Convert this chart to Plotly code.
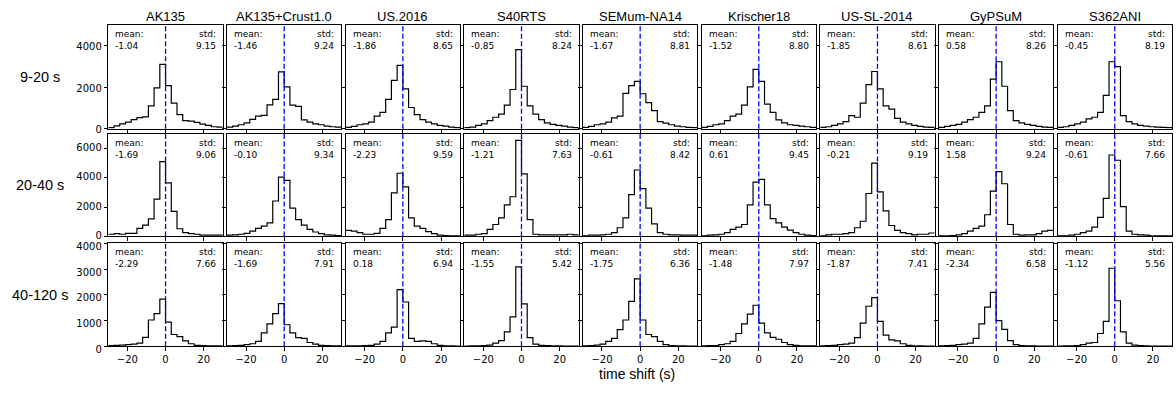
import plotly.graph_objects as go

# ---------------- data ----------------
MODELS = ["AK135", "AK135+Crust1.0", "US.2016", "S40RTS", "SEMum-NA14",
          "Krischer18", "US-SL-2014", "GyPSuM", "S362ANI"]
PERIODS = ["9-20 s", "20-40 s", "40-120 s"]
BIN_EDGES = [-30, -27, -24, -21, -18, -15, -12, -9, -6, -3, 0,
             3, 6, 9, 12, 15, 18, 21, 24, 27, 30]
X_TICKS = [-20, 0, 20]

# 9-20 s
ak135_r1 = [50, 140, 235, 315, 440, 535, 565, 1100, 1960, 3090, 2070, 1225, 675, 390, 360, 300, 220, 160, 95, 80]
crust_r1 = [80, 125, 190, 280, 450, 600, 640, 1150, 1410, 2730, 2010, 1130, 1070, 420, 315, 235, 190, 125, 95, 80]
us2016_r1 = [60, 110, 190, 235, 315, 600, 785, 1410, 2320, 3045, 1915, 1020, 675, 440, 315, 235, 157, 125, 80, 50]
s40rts_r1 = [50, 80, 157, 235, 390, 550, 705, 1130, 1885, 3800, 2040, 1100, 705, 440, 280, 205, 157, 125, 80, 50]
semum_r1 = [60, 110, 190, 235, 315, 520, 600, 1695, 2070, 2275, 1680, 1255, 865, 345, 265, 190, 125, 95, 60, 50]
krischer_r1 = [60, 110, 190, 235, 390, 600, 705, 1130, 2010, 2855, 2275, 1180, 785, 420, 280, 190, 157, 125, 95, 60]
ussl_r1 = [60, 95, 157, 235, 345, 630, 550, 1225, 2120, 2750, 1915, 1100, 940, 500, 315, 235, 157, 110, 80, 60]
gypsum_r1 = [60, 110, 157, 205, 315, 440, 550, 785, 1100, 2385, 3220, 2040, 865, 390, 280, 205, 157, 110, 80, 60]
s362_r1 = [60, 95, 157, 235, 315, 470, 550, 785, 1600, 3220, 2980, 630, 345, 235, 157, 125, 95, 80, 60, 50]

# 20-40 s
ak135_r2 = [145, 190, 145, 210, 210, 545, 765, 1190, 2540, 5095, 3650, 1700, 520, 255, 190, 145, 80, 80, 80, 80]
crust_r2 = [80, 100, 145, 210, 365, 545, 700, 920, 2410, 4030, 3810, 1920, 1145, 765, 475, 300, 190, 100, 80, 50]
us2016_r2 = [410, 365, 255, 145, 145, 210, 545, 1145, 2960, 4300, 3365, 1255, 700, 545, 320, 190, 80, 60, 40, 40]
s40rts_r2 = [80, 80, 145, 190, 475, 810, 1255, 2140, 2700, 6540, 4250, 1145, 145, 100, 100, 100, 100, 100, 145, 100]
semum_r2 = [35, 80, 80, 100, 145, 255, 590, 1255, 2850, 4520, 3255, 1920, 855, 255, 145, 100, 100, 80, 80, 80]
krischer_r2 = [35, 80, 100, 145, 255, 475, 630, 810, 2140, 3700, 3875, 2140, 1210, 920, 630, 430, 255, 145, 80, 60]
ussl_r2 = [35, 100, 145, 145, 190, 255, 590, 1030, 2920, 4985, 3030, 1740, 740, 410, 255, 190, 100, 145, 145, 230]
gypsum_r2 = [40, 40, 60, 100, 190, 365, 545, 700, 1475, 3075, 4410, 3585, 810, 145, 80, 100, 100, 190, 365, 410]
s362_r2 = [30, 35, 80, 145, 255, 365, 630, 1300, 2590, 5540, 5185, 2030, 365, 145, 100, 80, 35, 35, 35, 35]

# 40-120 s
ak135_r3 = [30, 40, 50, 65, 90, 125, 350, 1025, 1275, 1840, 940, 460, 375, 210, 100, 40, 30, 20, 20, 20]
crust_r3 = [15, 25, 40, 65, 100, 190, 525, 875, 1275, 1660, 840, 525, 340, 310, 150, 90, 40, 25, 20, 15]
us2016_r3 = [15, 15, 15, 25, 40, 90, 190, 525, 750, 2210, 1725, 310, 190, 210, 190, 100, 40, 20, 15, 10]
s40rts_r3 = [10, 15, 15, 25, 50, 125, 225, 560, 1150, 3090, 1650, 340, 90, 40, 25, 20, 15, 10, 10, 10]
semum_r3 = [15, 25, 50, 90, 190, 310, 650, 1025, 1750, 2625, 1025, 460, 375, 190, 65, 25, 20, 15, 10, 10]
krischer_r3 = [15, 25, 25, 65, 100, 190, 500, 875, 1250, 1600, 900, 525, 350, 275, 150, 65, 40, 15, 15, 15]
ussl_r3 = [15, 25, 40, 65, 90, 125, 340, 900, 1560, 1900, 975, 440, 250, 210, 100, 40, 20, 15, 10, 10]
gypsum_r3 = [15, 25, 40, 65, 90, 125, 310, 875, 1525, 2100, 1000, 660, 225, 65, 25, 20, 15, 10, 10, 10]
s362_r3 = [10, 15, 15, 25, 65, 125, 150, 500, 975, 3040, 1775, 560, 125, 50, 25, 15, 10, 10, 10, 10]

MEAN_R1 = [-1.04, -1.46, -1.86, -0.85, -1.67, -1.52, -1.85, 0.58, -0.45]
STD_R1 = [9.15, 9.24, 8.65, 8.24, 8.81, 8.80, 8.61, 8.26, 8.19]
MEAN_R2 = [-1.69, -0.10, -2.23, -1.21, -0.61, 0.61, -0.21, 1.58, -0.61]
STD_R2 = [9.06, 9.34, 9.59, 7.63, 8.42, 9.45, 9.19, 9.24, 7.66]
MEAN_R3 = [-2.29, -1.69, 0.18, -1.55, -1.75, -1.48, -1.87, -2.34, -1.12]
STD_R3 = [7.66, 7.91, 6.94, 5.42, 6.36, 7.97, 7.41, 6.58, 5.56]

Y_MAX = [5000, 7000, 4010]
Y_DTICK = [2000, 2000, 1000]

COUNTS = [
    [ak135_r1, crust_r1, us2016_r1, s40rts_r1, semum_r1, krischer_r1, ussl_r1, gypsum_r1, s362_r1],
    [ak135_r2, crust_r2, us2016_r2, s40rts_r2, semum_r2, krischer_r2, ussl_r2, gypsum_r2, s362_r2],
    [ak135_r3, crust_r3, us2016_r3, s40rts_r3, semum_r3, krischer_r3, ussl_r3, gypsum_r3, s362_r3],
]
MEANS = [MEAN_R1, MEAN_R2, MEAN_R3]
STDS = [STD_R1, STD_R2, STD_R3]

# ---------------- layout geometry (pixels) ----------------
W, H = 1176, 394
COL_LEFT0, COL_STEP, PANEL_W = 108.3, 118.65, 114.5
ROW_TOP = [23.3, 135.0, 247.6]
ROW_BOT = [130.0, 240.5, 353.3]
LABEL_SHIFT = [1, -1, 3]

TICK_FONT = dict(family="DejaVu Sans", size=10, color="black")
LABEL_FAMILY = "Liberation Sans, Arial, sans-serif"

fig = go.Figure()
layout = dict(
    width=W, height=H, margin=dict(l=0, r=0, t=0, b=0),
    paper_bgcolor="white", plot_bgcolor="white", showlegend=False,
    font=dict(family="DejaVu Sans", color="black"),
)
annotations = []
shapes = []

for r in range(3):
    for c in range(9):
        k = r * 9 + c + 1
        sfx = "" if k == 1 else str(k)
        counts = COUNTS[r][c]
        fig.add_trace(go.Scatter(
            x=BIN_EDGES, y=counts + [counts[-1]], mode="lines",
            line=dict(color="black", width=1.2, shape="hv"),
            xaxis="x" + sfx, yaxis="y" + sfx, hoverinfo="skip",
        ))
        left = COL_LEFT0 + c * COL_STEP
        layout["xaxis" + sfx] = dict(
            domain=[left / W, (left + PANEL_W) / W], range=[-30, 30],
            anchor="y" + sfx, showgrid=False, zeroline=False,
            showline=True, mirror=True, linecolor="black", linewidth=1,
            tickvals=X_TICKS, ticks="outside", ticklen=3.5, tickwidth=0.8,
            tickcolor="black", showticklabels=(r == 2), tickfont=TICK_FONT,
        )
        layout["yaxis" + sfx] = dict(
            domain=[1 - ROW_BOT[r] / H, 1 - ROW_TOP[r] / H], range=[0, Y_MAX[r]],
            anchor="x" + sfx, showgrid=False, zeroline=False,
            showline=True, mirror=True, linecolor="black", linewidth=1,
            tick0=0, dtick=Y_DTICK[r], ticks="outside", ticklen=3.5, tickwidth=0.8,
            tickcolor="black", showticklabels=(c == 0), tickfont=TICK_FONT,
            ticklabelshift=LABEL_SHIFT[r],
        )
        shapes.append(dict(
            type="line", xref="x" + sfx, yref="y" + sfx + " domain",
            x0=0, x1=0, y0=0, y1=1, layer="above",
            line=dict(color="#0000ff", width=1.3, dash="5px,2.5px"),
        ))
        annotations.append(dict(
            xref="x" + sfx + " domain", yref="y" + sfx + " domain", x=0, y=1,
            xshift=5, yshift=-2, xanchor="left", yanchor="top", align="left",
            showarrow=False, text=f"mean:<br>{MEANS[r][c]:.2f}",
            font=dict(family="DejaVu Sans", size=9, color="black"),
        ))
        annotations.append(dict(
            xref="x" + sfx + " domain", yref="y" + sfx + " domain", x=1, y=1,
            xshift=-5, yshift=-2, xanchor="right", yanchor="top", align="right",
            showarrow=False, text=f"std:<br>{STDS[r][c]:.2f}",
            font=dict(family="DejaVu Sans", size=9, color="black"),
        ))
        if r == 0:
            annotations.append(dict(
                xref="paper", yref="paper", x=(left + PANEL_W / 2) / W, y=1 - 15 / H,
                xanchor="center", yanchor="middle", showarrow=False, text=MODELS[c],
                font=dict(family=LABEL_FAMILY, size=13, color="black"),
            ))
    annotations.append(dict(
        xref="paper", yref="paper", x=40 / W, y=1 - (ROW_TOP[r] + ROW_BOT[r]) / 2 / H,
        xanchor="center", yanchor="middle", showarrow=False, text=PERIODS[r],
        font=dict(family=LABEL_FAMILY, size=14.5, color="black"),
    ))

annotations.append(dict(
    xref="paper", yref="paper", x=637 / W, y=1 - 382 / H,
    xanchor="center", yanchor="middle", showarrow=False, text="time shift (s)",
    font=dict(family=LABEL_FAMILY, size=14, color="black"),
))

layout["annotations"] = annotations
layout["shapes"] = shapes
fig.update_layout(**layout)
fig.write_html("out.html")
